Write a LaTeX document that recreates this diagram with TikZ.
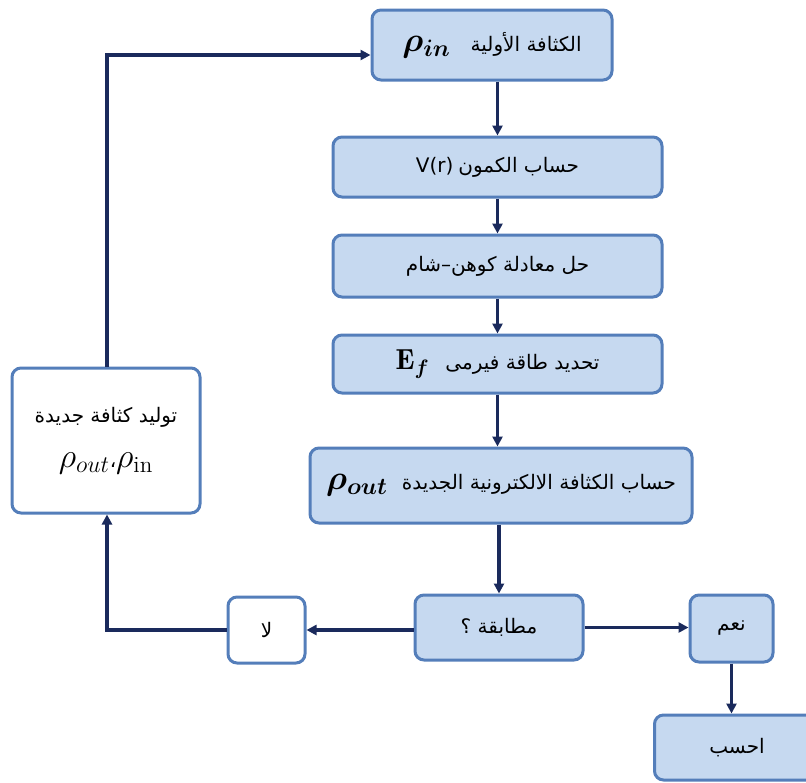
\documentclass[tikz,border=0pt]{standalone}
\usepackage{amsmath}
\usepackage{graphicx}
\usepackage{fontspec}
\usetikzlibrary{arrows.meta}
\TeXXeTstate=1
\newfontfamily\arabicfont[Script=Arabic]{DejaVu Sans}
\definecolor{boxfill}{RGB}{198,217,240}
\definecolor{boxline}{RGB}{84,126,186}
\definecolor{arrline}{RGB}{26,42,92}
\newcommand{\artext}[1]{{\arabicfont\beginR #1\endR}}
\newcommand{\bigmath}[2][1.65]{\scalebox{#1}{$#2$}}
\tikzset{
  flowbox/.style={draw=boxline, line width=3pt, fill=boxfill, rounded corners=9pt, inner sep=2pt, font=\fontsize{20}{23}\selectfont, align=center},
  whitebox/.style={flowbox, fill=white},
  arr/.style={draw=arrline, line width=3.2pt, -{Triangle[length=10pt,width=10pt]}},
}
\begin{document}
\begin{tikzpicture}[x=1pt,y=-1pt]
\useasboundingbox (0,0) rectangle (806,782);
\clip (0,0) rectangle (806,782);
\node[flowbox, minimum width=240pt, minimum height=70pt] (b1) at (492,45)
  {\bigmath{\boldsymbol{\rho_{in}}}\hspace{20pt}\artext{الكثافة الأولية}};
\node[flowbox, minimum width=329pt, minimum height=60pt] (b2) at (497.5,167)
  {{\arabicfont V(r)}\hspace{5pt}\artext{حساب الكمون}};
\node[flowbox, minimum width=329pt, minimum height=62pt] (b3) at (497.5,266)
  {\artext{حل معادلة كوهن–شام}};
\node[flowbox, minimum width=329pt, minimum height=58pt] (b4) at (497.5,364)
  {\bigmath[1.45]{\mathbf{E}_{\boldsymbol{f}}}\hspace{16pt}\artext{تحديد طاقة فيرمى}};
\node[flowbox, minimum width=382pt, minimum height=75pt] (b5) at (501,485.5)
  {\bigmath{\boldsymbol{\rho_{out}}}\hspace{14pt}\artext{حساب الكثافة الالكترونية الجديدة}};
\node[flowbox, minimum width=168pt, minimum height=65pt] (b6) at (499,627.5)
  {\artext{مطابقة ؟}};
\node[whitebox, minimum width=77pt, minimum height=66pt] (no) at (266.5,630)
  {\artext{لا}};
\node[flowbox, minimum width=83pt, minimum height=67pt] (yes) at (731.5,628.5)
  {\artext{نعم}};
\node[flowbox, minimum width=165pt, minimum height=65pt] (calc) at (737,747.5)
  {\artext{احسب}};
\node[whitebox, minimum width=188pt, minimum height=145pt] (gen) at (106,440.5)
  {\artext{توليد كثافة جديدة}\\[22pt]\bigmath{\rho_{out}}{\arabicfont ،}\bigmath{\rho_{\mathrm{in}}}};
\coordinate (c1) at (107,630);
\coordinate (c2) at (107,55);
\draw[arr] (b1.south -| b2.north) -- (b2.north);
\draw[arr] (b2) -- (b3);
\draw[arr] (b3) -- (b4);
\draw[arr] (b4.south) -- (b4.south |- b5.north);
\draw[arr] (b5.south -| b6.north) -- (b6.north);
\draw[arr] (b6.west |- no.east) -- (no.east);
\draw[arr] (b6.east) -- (b6.east -| yes.west);
\draw[arr] (yes.south) -- (yes.south |- calc.north);
\draw[arr] (no.west) -- (c1) -- (gen.south -| c1);
\draw[arr] (gen.north -| c2) -- (c2) -- (c2 -| b1.west);
\end{tikzpicture}
\end{document}
